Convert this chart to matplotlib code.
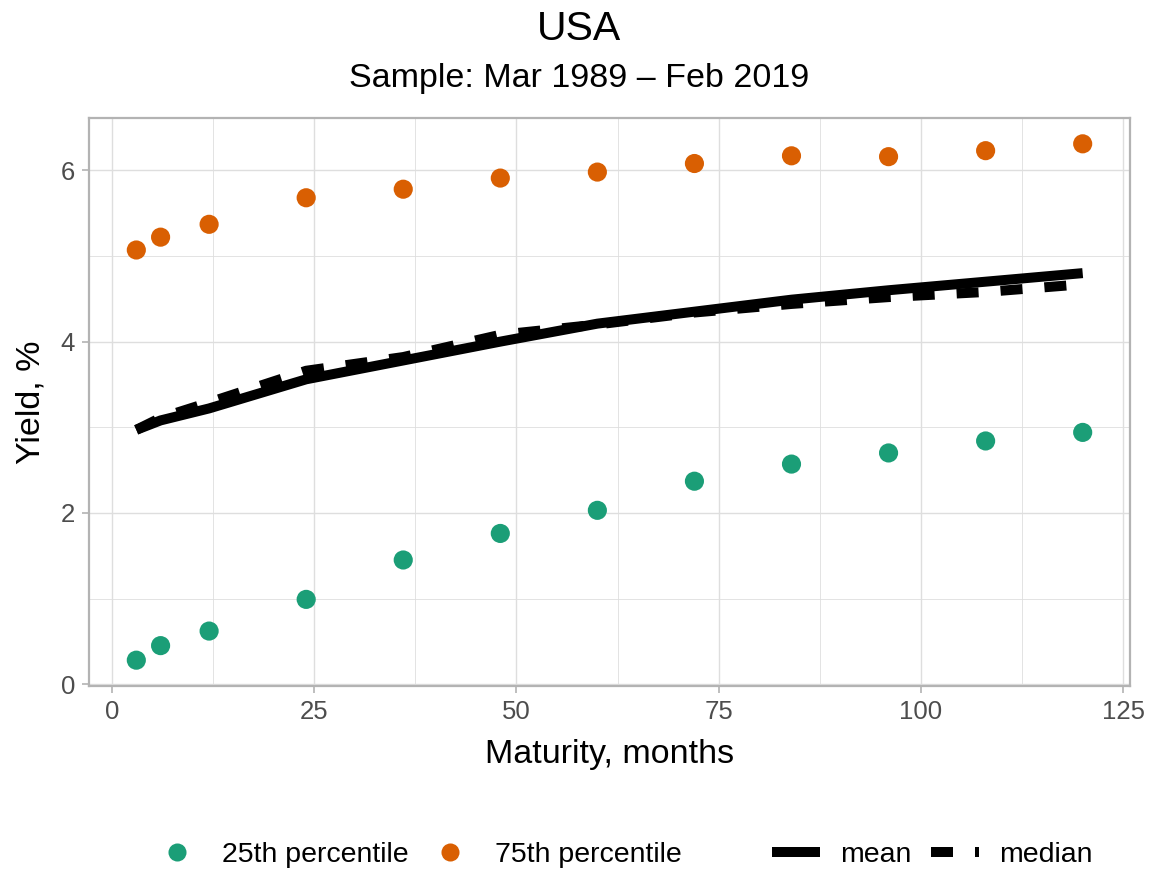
import numpy as np
import matplotlib.pyplot as plt
from matplotlib.lines import Line2D

plt.rcParams['font.family'] = ['Liberation Sans', 'DejaVu Sans']

# maturities (months) and yield statistics, %
maturity = [3, 6, 12, 24, 36, 48, 60, 72, 84, 96, 108, 120]
p25 = [0.28, 0.45, 0.62, 0.99, 1.45, 1.76, 2.03, 2.37, 2.57, 2.70, 2.84, 2.94]
p75 = [5.07, 5.22, 5.37, 5.68, 5.78, 5.91, 5.98, 6.08, 6.17, 6.16, 6.23, 6.31]
mean_y = [2.97, 3.08, 3.22, 3.56, 3.78, 4.00, 4.21, 4.35, 4.49, 4.60, 4.70, 4.80]
median_y = [2.97, 3.11, 3.29, 3.66, 3.82, 4.08, 4.20, 4.34, 4.44, 4.52, 4.58, 4.67]

green = '#1b9e77'
orange = '#d95f02'
grid_col = '#dedede'
border_col = '#b3b3b3'

fig = plt.figure(figsize=(11.58, 8.74), dpi=100)
ax = fig.add_axes([89 / 1158, 1 - 686 / 874, (1130 - 89) / 1158, (686 - 118) / 874])

ax.plot(maturity, mean_y, color='black', lw=7.2, solid_capstyle='butt', zorder=3)
ax.plot(maturity, median_y, color='black', lw=7.2, dashes=(2.2, 2.2),
        dash_capstyle='butt', zorder=3)
ax.scatter(maturity, p25, s=190, color=green, edgecolors='none', zorder=4)
ax.scatter(maturity, p75, s=190, color=orange, edgecolors='none', zorder=4)

lo, hi = min(p25), max(p75)
pad = 0.05 * (hi - lo)
ax.set_ylim(lo - pad, hi + pad)
xpad = 0.05 * (max(maturity) - min(maturity))
ax.set_xlim(min(maturity) - xpad, max(maturity) + xpad)

ax.set_xticks([0, 25, 50, 75, 100, 125])
ax.set_xticks([12.5, 37.5, 62.5, 87.5, 112.5], minor=True)
ax.set_yticks([0, 2, 4, 6])
ax.set_yticks([1, 3, 5], minor=True)
ax.grid(which='major', color=grid_col, lw=1.0)
ax.grid(which='minor', color=grid_col, lw=0.6)
ax.set_axisbelow(True)
for s in ax.spines.values():
    s.set_color(border_col)
    s.set_linewidth(1.6)
ax.tick_params(which='major', color=border_col, width=1.2, length=5,
               labelsize=18.5, labelcolor='#4d4d4d', pad=5)
ax.tick_params(which='minor', length=0)

ax.set_xlabel('Maturity, months', fontsize=24.5, labelpad=11)
ax.set_ylabel('Yield, %', fontsize=24.5, labelpad=10)

fig.text(0.5, 1 - 29 / 874, 'USA', ha='center', va='center', fontsize=29.5)
fig.text(0.5, 1 - 79 / 874, 'Sample: Mar 1989 \u2013 Feb 2019', ha='center',
         va='center', fontsize=24.5)

pt_handles = [Line2D([], [], ls='none', marker='o', ms=13, color=green, mec='none'),
              Line2D([], [], ls='none', marker='o', ms=13, color=orange, mec='none')]
fig.legend(pt_handles, ['25th percentile', '75th percentile'], ncol=2,
           loc='center', bbox_to_anchor=(422 / 1158, 1 - 855 / 874), frameon=False,
           fontsize=20.5, handlelength=1.0, handletextpad=1.07, columnspacing=0.97)

ln_handles = [Line2D([], [], color='black', lw=7.2, solid_capstyle='butt'),
              Line2D([], [], color='black', lw=7.2, dashes=(2.2, 2.2),
                     dash_capstyle='butt')]
fig.legend(ln_handles, ['mean', 'median'], ncol=2,
           loc='center', bbox_to_anchor=(932 / 1158, 1 - 855 / 874), frameon=False,
           fontsize=20.5, handlelength=1.68, handletextpad=0.7, columnspacing=0.7)

fig.savefig('out.png', dpi=100)
